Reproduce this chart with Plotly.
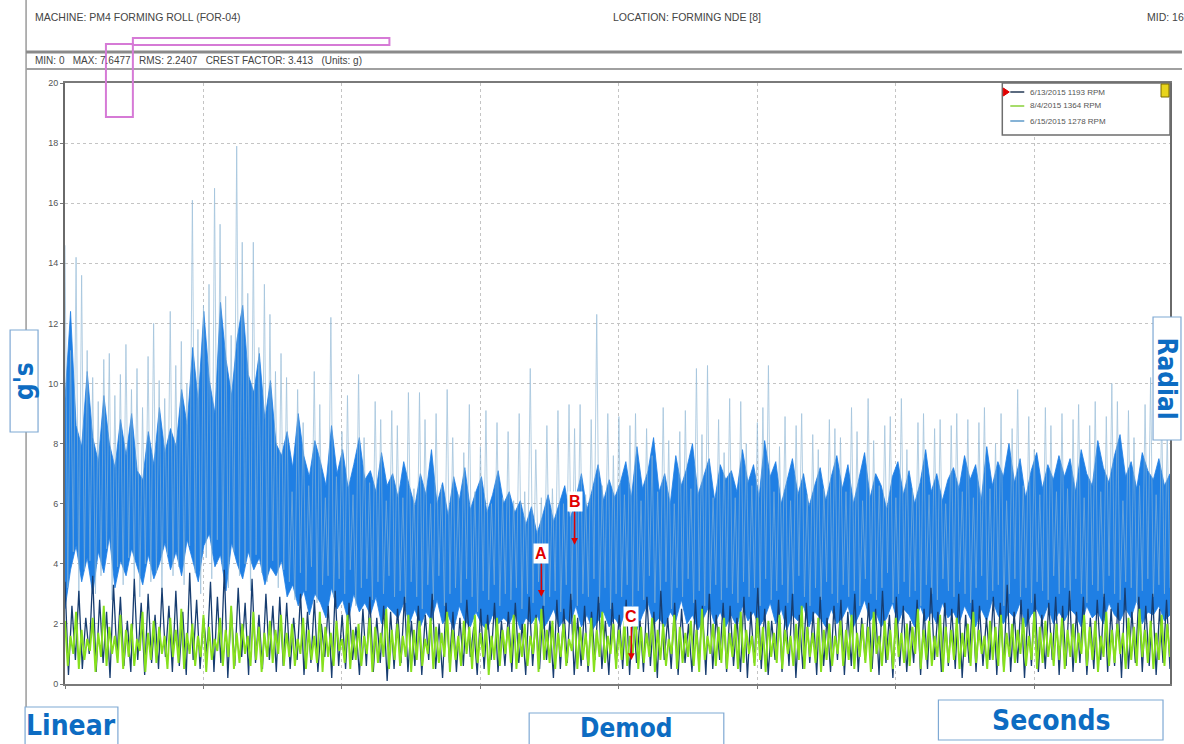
import numpy as np
import plotly.graph_objects as go

# ---------------------------------------------------------------------------
# Demodulated time waveform, FORMING NDE [8], three measurement dates
# ---------------------------------------------------------------------------
T_END = 7.98  # seconds recorded

# 6/15/2015 1278 RPM - dense core of the waveform (lower / upper excursion), g
BODY_LOW = [
    2.5, 3.8, 4.6, 3.4, 4.2, 3.0, 4.4, 3.7, 4.9, 3.2, 4.1, 3.6, 4.5, 3.9, 3.3, 4.3, 3.5, 4.0, 4.7, 3.8,
    4.4, 3.6, 4.8, 4.1, 3.4, 4.6, 5.0, 3.9, 4.3, 3.1, 4.7, 4.0, 3.5, 4.4, 3.8, 4.2, 3.3, 3.9, 3.6, 4.1,
    2.9, 3.3, 2.6, 3.1, 2.3, 3.0, 2.7, 2.2, 3.2, 2.5, 2.8, 2.1, 3.0, 2.4, 2.7, 2.3, 2.9, 2.0, 2.6, 2.4,
    2.2, 2.7, 2.0, 2.5, 1.9, 2.4, 2.1, 2.8, 2.0, 2.3, 1.8, 2.6, 2.1, 1.9, 2.4, 2.0, 1.8, 2.3, 2.0, 2.2,
    2.0, 2.4, 1.8, 2.2, 2.0, 2.3, 1.8, 2.1, 2.5, 1.9, 2.2, 2.0, 2.6, 1.9, 2.3, 1.8, 2.1, 2.4, 1.9, 2.2,
    1.9, 2.5, 2.1, 1.8, 2.3, 2.7, 2.0, 2.2, 1.9, 2.4, 2.1, 2.8, 2.0, 2.3, 1.8, 2.2, 2.6, 2.0, 2.4, 1.9,
    2.3, 1.9, 2.6, 2.1, 2.4, 1.9, 2.2, 2.7, 2.0, 2.5, 1.8, 2.3, 2.1, 2.6, 1.9, 2.4, 2.2, 1.9, 2.5, 2.0,
    2.2, 2.6, 1.9, 2.3, 2.8, 2.1, 2.4, 1.9, 2.2, 2.7, 2.0, 2.5, 2.3, 1.9, 2.6, 2.1, 2.4, 2.0, 2.7, 2.2,
    2.4, 2.0, 2.6, 2.2, 1.9, 2.5, 2.1, 2.8, 2.3, 2.0, 2.4, 2.2, 2.7, 1.9, 2.3, 2.5, 2.1, 2.6, 2.0, 2.4,
    2.1, 2.5, 2.3, 1.9, 2.6, 2.2, 2.4, 2.0, 2.7, 2.3, 2.1, 2.5, 2.2, 2.8, 2.0, 2.4, 2.3, 2.6, 2.1, 2.3,
]
BODY_HIGH = [
    9.5, 12.4, 8.6, 7.9, 10.4, 8.2, 7.4, 9.6, 8.0, 7.2, 8.8, 7.6, 9.0, 7.1, 6.8, 8.4, 7.3, 9.2, 7.7, 8.5,
    7.9, 9.8, 8.6, 11.2, 9.4, 12.4, 10.1, 9.0, 12.7, 10.8, 9.6, 11.5, 12.6, 10.3, 9.7, 11.0, 8.8, 10.1, 8.0, 7.6,
    8.4, 7.2, 9.0, 7.6, 6.9, 8.1, 7.4, 6.6, 8.6, 7.0, 7.8, 6.5, 7.3, 8.2, 6.8, 7.1, 6.4, 7.7, 6.6, 7.0,
    6.2, 7.4, 6.6, 5.9, 7.0, 6.3, 7.8, 6.0, 6.7, 5.6, 6.9, 6.1, 7.2, 5.8, 6.4, 6.9, 5.7, 6.3, 7.1, 6.0,
    6.4, 5.7, 6.1, 5.3, 5.9, 5.0, 5.6, 6.3, 5.4, 6.0, 6.6, 5.5, 6.2, 7.0, 5.8, 6.5, 7.3, 6.1, 6.8, 6.2,
    6.7, 7.4, 6.2, 7.9, 6.5, 7.1, 8.2, 6.4, 7.0, 6.0, 7.6, 6.6, 7.2, 8.0, 6.3, 6.9, 7.5, 6.1, 7.3, 6.8,
    7.1, 6.4, 7.8, 6.7, 7.3, 6.2, 8.1, 6.9, 7.4, 6.0, 6.8, 7.5, 6.3, 7.0, 5.9, 6.6, 7.2, 6.1, 6.9, 7.6,
    6.5, 7.3, 6.0, 6.8, 7.7, 6.2, 7.0, 6.6, 5.8, 6.9, 7.4, 6.3, 7.1, 6.0, 6.7, 7.8, 6.4, 7.0, 6.1, 6.8,
    7.2, 6.5, 7.6, 6.8, 7.3, 6.1, 7.9, 6.6, 7.4, 6.9, 8.0, 6.7, 7.5, 6.2, 7.1, 7.7, 6.5, 7.3, 6.8, 7.6,
    6.9, 7.5, 6.4, 7.8, 7.0, 6.6, 8.1, 7.2, 6.7, 7.6, 8.3, 6.9, 7.4, 6.5, 7.7, 7.1, 6.8, 7.5, 6.6, 7.0,
]

# 6/15/2015 1278 RPM - impact peaks and the valleys between them, g
PEAK_TOP = [
    14.6, 11.1, 14.2, 13.6, 11.1, 10.2, 9.4, 10.8, 11.0, 9.6, 10.3, 11.3, 9.8, 10.5, 9.2, 10.9, 12.0, 10.1, 9.5, 12.4,
    10.6, 11.4, 10.0, 16.1, 11.8, 12.6, 13.3, 16.5, 15.3, 12.9, 11.6, 17.9, 14.7, 13.0, 14.7, 11.2, 13.3, 12.3, 10.4, 11.0,
    10.2, 6.4, 9.8, 8.7, 6.6, 10.4, 9.3, 6.2, 12.2, 6.9, 8.4, 9.6, 6.3, 10.3, 8.2, 6.7, 9.4, 8.8, 6.1, 9.1,
    8.6, 6.2, 9.7, 6.5, 9.7, 8.8, 6.0, 9.0, 6.6, 9.8, 8.2, 6.3, 7.7, 9.3, 6.4, 7.9, 9.1, 6.0, 8.7, 6.2,
    8.4, 6.1, 9.0, 6.4, 10.5, 7.8, 6.2, 8.6, 6.5, 9.1, 6.0, 9.3, 8.5, 9.3, 6.3, 8.8, 12.3, 6.6, 9.0, 7.6,
    8.9, 6.3, 8.6, 9.0, 6.1, 8.5, 7.6, 6.4, 9.2, 8.1, 6.0, 8.4, 9.1, 6.5, 10.5, 8.3, 10.6, 6.2, 8.8, 7.7,
    9.5, 6.2, 9.4, 8.0, 6.6, 8.7, 9.2, 10.6, 6.4, 7.9, 8.9, 6.1, 8.6, 9.0, 6.3, 8.3, 7.8, 6.5, 8.8, 8.5,
    8.2, 6.4, 9.2, 8.4, 6.1, 9.5, 8.1, 6.6, 8.6, 8.9, 6.2, 9.5, 7.8, 6.5, 8.7, 9.0, 6.3, 8.5, 8.8, 6.0,
    8.6, 9.0, 6.4, 8.8, 6.2, 8.7, 9.2, 6.5, 8.0, 9.0, 6.1, 8.5, 9.8, 6.6, 8.9, 7.8, 6.3, 9.2, 8.6, 6.4,
    9.0, 6.5, 8.8, 9.3, 6.2, 8.6, 9.4, 6.4, 8.9, 10.0, 9.4, 6.1, 9.1, 8.2, 6.6, 9.3, 10.2, 6.3, 9.0, 8.4,
]
PEAK_BASE = [
    3.2, 4.4, 2.9, 3.8, 4.1, 3.0, 3.6, 4.5, 2.8, 3.9, 3.3, 4.2, 3.5, 2.9, 4.0, 3.4, 3.7, 3.1, 4.3, 3.6,
    3.9, 3.3, 4.6, 3.7, 3.0, 4.2, 3.5, 4.8, 3.8, 3.2, 4.4, 3.6, 4.0, 3.1, 4.3, 3.7, 3.4, 4.1, 3.2, 3.8,
    3.4, 2.8, 3.7, 3.1, 3.9, 2.7, 3.3, 3.6, 2.9, 3.5, 3.0, 3.8, 2.6, 3.2, 3.5, 2.8, 3.4, 3.0, 3.6, 2.9,
    3.1, 2.7, 3.4, 2.9, 2.5, 3.3, 2.8, 3.6, 2.6, 3.0, 3.2, 2.7, 3.5, 2.9, 2.4, 3.1, 2.8, 3.3, 2.6, 3.0,
    2.8, 3.2, 2.5, 3.0, 2.7, 3.4, 2.6, 2.9, 3.1, 2.4, 3.3, 2.8, 2.6, 3.0, 2.9, 3.5, 2.7, 3.2, 2.5, 3.0,
    2.9, 3.3, 2.6, 3.1, 2.8, 3.6, 2.7, 3.0, 3.4, 2.5, 3.2, 2.9, 3.5, 2.7, 3.1, 2.6, 3.0, 3.3, 2.8, 3.2,
    3.0, 2.7, 3.4, 2.9, 3.2, 2.6, 3.5, 2.8, 3.1, 3.3, 2.7, 3.0, 3.6, 2.9, 2.6, 3.2, 2.8, 3.4, 3.0, 2.7,
    3.3, 2.9, 3.1, 2.6, 3.5, 3.0, 2.8, 3.2, 3.7, 2.7, 3.0, 3.4, 2.9, 3.1, 2.6, 3.3, 3.0, 2.8, 3.5, 3.1,
    2.9, 3.4, 3.0, 2.7, 3.2, 3.6, 2.8, 3.1, 3.3, 2.6, 3.0, 3.5, 2.9, 3.2, 2.7, 3.4, 3.1, 2.8, 3.6, 3.0,
    3.2, 2.8, 3.5, 3.0, 2.7, 3.3, 3.1, 2.9, 3.6, 3.0, 2.8, 3.4, 3.2, 2.7, 3.1, 3.5, 2.9, 3.3, 3.0, 3.2,
]

# 6/13/2015 1193 RPM - peaks and valleys, g
JUNE13_TOP = [
    3.4, 2.6, 3.1, 2.2, 3.6, 2.8, 2.4, 3.3, 2.9, 2.1, 3.5, 2.7, 3.0, 2.3, 3.2, 2.6,
    3.1, 2.4, 3.7, 2.8, 2.2, 3.4, 2.9, 3.8, 2.5, 3.2, 2.7, 3.5, 2.3, 3.0, 2.6, 2.9,
    2.7, 2.2, 3.0, 2.4, 2.8, 2.0, 2.6, 3.1, 2.3, 2.7, 1.9, 2.5, 2.9, 2.2, 2.6, 2.4,
    2.5, 2.9, 2.1, 2.6, 2.3, 3.0, 2.0, 2.7, 2.4, 2.2, 2.8, 1.9, 2.5, 2.3, 2.7, 2.1,
    2.4, 2.7, 2.0, 2.9, 2.3, 2.6, 2.1, 2.8, 2.5, 3.0, 2.2, 2.6, 2.4, 2.9, 2.1, 2.7,
    2.3, 2.8, 2.5, 2.1, 2.9, 2.4, 3.1, 2.2, 2.7, 2.5, 2.0, 2.8, 2.6, 3.0, 2.3, 2.7,
    2.6, 2.2, 2.9, 2.4, 3.2, 2.5, 2.1, 2.8, 2.6, 3.0, 2.3, 2.7, 2.4, 2.9, 2.2, 2.6,
    2.8, 2.4, 3.0, 2.2, 2.7, 2.5, 3.1, 2.3, 2.9, 2.6, 2.1, 2.8, 2.5, 3.2, 2.4, 2.7,
    2.5, 3.0, 2.3, 2.8, 2.6, 2.2, 2.9, 2.7, 3.3, 2.4, 2.8, 2.5, 3.0, 2.3, 2.7, 2.9,
    2.6, 3.1, 2.4, 2.9, 2.2, 2.8, 3.0, 2.5, 2.7, 3.2, 2.4, 2.9, 2.6, 3.0, 2.5, 2.8,
]
JUNE13_LOW = [
    0.3, 0.8, 0.5, 1.0, 0.4, 0.7, 0.2, 0.9, 0.6, 0.4, 0.8, 0.3, 0.7, 0.5, 0.9, 0.4,
    0.6, 0.3, 0.8, 0.5, 1.0, 0.4, 0.7, 0.2, 0.6, 0.9, 0.3, 0.7, 0.5, 0.8, 0.4, 0.6,
    0.5, 0.8, 0.3, 0.7, 0.4, 0.9, 0.2, 0.6, 0.5, 0.8, 0.3, 0.6, 0.4, 0.7, 0.1, 0.5,
    0.7, 0.4, 0.6, 0.3, 0.8, 0.5, 0.2, 0.7, 0.4, 0.6, 0.9, 0.3, 0.5, 0.8, 0.4, 0.6,
    0.4, 0.7, 0.3, 0.6, 0.5, 0.8, 0.2, 0.5, 0.7, 0.3, 0.6, 0.4, 0.8, 0.5, 0.3, 0.7,
    0.5, 0.3, 0.7, 0.4, 0.6, 0.2, 0.8, 0.5, 0.3, 0.7, 0.4, 0.6, 0.3, 0.5, 0.8, 0.4,
    0.6, 0.4, 0.2, 0.7, 0.5, 0.3, 0.8, 0.4, 0.6, 0.2, 0.5, 0.7, 0.3, 0.6, 0.4, 0.8,
    0.3, 0.6, 0.4, 0.8, 0.5, 0.3, 0.7, 0.2, 0.6, 0.4, 0.7, 0.3, 0.5, 0.8, 0.4, 0.6,
    0.5, 0.2, 0.7, 0.4, 0.6, 0.8, 0.3, 0.5, 0.4, 0.7, 0.2, 0.6, 0.4, 0.5, 0.8, 0.3,
    0.6, 0.4, 0.7, 0.3, 0.5, 0.8, 0.4, 0.6, 0.2, 0.5, 0.7, 0.4, 0.6, 0.3, 0.7, 0.5,
]

# 8/4/2015 1364 RPM - peaks and valleys, g
AUG04_TOP = [
    2.1, 1.6, 2.4, 1.8, 1.5, 2.2, 1.7, 2.6, 1.9, 1.6, 2.3, 1.8, 2.0, 1.5, 2.4, 1.7, 2.1, 1.9, 1.6, 2.2,
    1.8, 2.5, 1.7, 2.0, 1.6, 2.3, 1.9, 1.5, 2.2, 1.8, 2.6, 1.7, 2.0, 1.6, 2.4, 1.9, 1.7, 2.1, 1.8, 2.3,
    1.7, 2.0, 1.5, 2.2, 1.8, 1.6, 2.4, 1.9, 1.7, 2.1, 1.5, 2.3, 1.8, 2.0, 1.6, 2.2, 1.9, 1.7, 2.5, 1.8,
    2.0, 1.6, 2.3, 1.8, 2.1, 1.5, 2.2, 1.9, 1.7, 2.4, 1.8, 1.6, 2.1, 1.9, 2.3, 1.7, 2.0, 1.6, 2.2, 1.8,
    1.9, 2.3, 1.7, 2.0, 1.6, 2.2, 2.5, 1.8, 2.1, 1.7, 2.0, 1.5, 2.3, 1.9, 1.7, 2.2, 1.8, 2.4, 1.6, 2.0,
    1.8, 2.1, 1.6, 2.4, 1.9, 1.7, 2.2, 1.8, 2.0, 1.5, 2.3, 1.9, 1.7, 2.1, 1.8, 2.5, 1.6, 2.0, 1.9, 2.2,
    1.7, 2.0, 2.4, 1.8, 1.6, 2.2, 1.9, 2.1, 1.7, 2.3, 1.8, 1.6, 2.0, 2.6, 1.9, 1.7, 2.2, 1.8, 2.0, 1.6,
    2.1, 1.8, 2.3, 1.7, 2.0, 1.9, 2.4, 1.6, 2.1, 1.8, 2.2, 1.7, 2.0, 1.9, 2.5, 1.8, 2.1, 1.6, 2.3, 1.9,
    1.8, 2.2, 1.7, 2.0, 2.4, 1.8, 1.6, 2.1, 1.9, 2.3, 1.7, 2.0, 1.8, 2.2, 1.6, 2.4, 1.9, 2.1, 1.7, 2.0,
    2.2, 1.8, 2.0, 1.7, 2.3, 1.9, 2.1, 1.6, 2.4, 1.8, 2.0, 1.7, 2.2, 1.9, 2.5, 1.8, 2.1, 1.7, 2.3, 2.0,
]
AUG04_LOW = [
    0.6, 1.0, 0.5, 0.8, 1.1, 0.4, 0.9, 0.6, 1.0, 0.7, 0.5, 0.9, 0.6, 1.1, 0.4, 0.8, 0.7, 1.0, 0.5, 0.9,
    0.7, 0.5, 1.0, 0.6, 0.9, 0.4, 0.8, 1.1, 0.6, 0.9, 0.5, 0.7, 1.0, 0.6, 0.8, 0.4, 0.9, 0.7, 1.0, 0.6,
    0.9, 0.6, 1.0, 0.5, 0.8, 0.7, 0.4, 0.9, 0.6, 1.1, 0.7, 0.5, 0.8, 0.6, 1.0, 0.4, 0.7, 0.9, 0.5, 0.8,
    0.6, 0.9, 0.4, 0.8, 0.6, 1.0, 0.5, 0.7, 0.9, 0.4, 0.8, 0.6, 1.0, 0.5, 0.7, 0.9, 0.3, 0.8, 0.6, 1.0,
    0.7, 0.5, 0.9, 0.6, 1.0, 0.4, 0.8, 0.7, 0.5, 0.9, 0.6, 1.1, 0.5, 0.8, 0.6, 0.4, 0.9, 0.7, 1.0, 0.5,
    0.8, 0.6, 1.0, 0.5, 0.7, 0.9, 0.4, 0.8, 0.6, 1.0, 0.5, 0.7, 0.9, 0.6, 0.4, 0.8, 1.0, 0.6, 0.7, 0.5,
    0.9, 0.5, 0.7, 1.0, 0.6, 0.8, 0.4, 0.9, 0.7, 0.5, 1.0, 0.6, 0.8, 0.5, 0.9, 0.7, 0.4, 0.8, 0.6, 1.0,
    0.6, 0.8, 0.5, 0.9, 0.7, 0.4, 1.0, 0.6, 0.8, 0.5, 0.9, 0.7, 0.6, 1.0, 0.5, 0.8, 0.6, 0.9, 0.4, 0.7,
    0.8, 0.5, 0.9, 0.6, 0.7, 1.0, 0.5, 0.8, 0.6, 0.4, 0.9, 0.7, 1.0, 0.6, 0.8, 0.5, 0.7, 0.9, 0.6, 0.8,
    0.5, 0.9, 0.7, 1.0, 0.6, 0.8, 0.4, 0.9, 0.6, 0.7, 1.0, 0.5, 0.8, 0.6, 0.9, 0.7, 0.5, 0.8, 0.6, 0.9,
]

SERIES_NAMES = ["6/13/2015 1193 RPM", "8/4/2015 1364 RPM", "6/15/2015 1278 RPM"]
X_TICKS = [0, 1, 2, 3, 4, 5, 6, 7]
X_TICK_TEXT = ["0", "1", "2", "3", "4", "5", "6", ""]  # "7" sits under the Seconds caption
Y_TICKS = [0, 2, 4, 6, 8, 10, 12, 14, 16, 18, 20]

# Marked points: (label, time s, amplitude g)
MARKERS = [("A", 3.44, 2.9), ("B", 3.68, 4.63), ("C", 4.09, 0.8)]

STATS = "MIN: 0   MAX: 7.6477   RMS: 2.2407   CREST FACTOR: 3.413   (Units: g)"

# colours
C_LIGHT = "#8cb5d4"
C_BODY = "#1f7fe4"
C_NAVY = "#173d70"
C_GREEN = "#86e01e"
C_LABEL = "#0d6cc2"

# ---------------------------------------------------------------------------
W, H = 1184, 744
ML, MR, MT, MB = 65, 12, 83, 60
PW, PH = W - ML - MR, H - MT - MB


def px(x):
    return (x - ML) / PW


def py(y):
    return (H - MB - y) / PH


def zigzag(tops, lows):
    y = np.empty(2 * len(tops))
    y[0::2] = tops
    y[1::2] = lows
    return np.linspace(0, T_END, len(y)), y


fig = go.Figure()

# dense core of the 6/15 waveform, impact peaks streaked over it
tb = np.linspace(0, T_END, len(BODY_LOW))
fig.add_trace(go.Scatter(x=tb, y=BODY_LOW, mode="lines", line=dict(color=C_BODY, width=0.8),
                         showlegend=False, hoverinfo="skip"))
fig.add_trace(go.Scatter(x=tb, y=BODY_HIGH, mode="lines", line=dict(color=C_BODY, width=0.8),
                         fill="tonexty", fillcolor=C_BODY, showlegend=False, hoverinfo="skip"))

xs, ys = zigzag(PEAK_TOP, PEAK_BASE)
fig.add_trace(go.Scatter(x=xs, y=ys, mode="lines", line=dict(color=C_LIGHT, width=0.8),
                         opacity=0.8, name=SERIES_NAMES[2], showlegend=False, hoverinfo="skip"))

xs, ys = zigzag(JUNE13_TOP, JUNE13_LOW)
fig.add_trace(go.Scatter(x=xs, y=ys, mode="lines", line=dict(color=C_NAVY, width=1.3),
                         name=SERIES_NAMES[0], showlegend=False, hoverinfo="skip"))

xs, ys = zigzag(AUG04_TOP, AUG04_LOW)
fig.add_trace(go.Scatter(x=xs, y=ys, mode="lines", line=dict(color=C_GREEN, width=1.9),
                         name=SERIES_NAMES[1], showlegend=False, hoverinfo="skip"))

# seconds labels under the time axis, written as a text layer that is not clipped
fig.add_trace(go.Scatter(x=X_TICKS, y=[-0.6] * len(X_TICKS), mode="text", text=X_TICK_TEXT,
                         textposition="middle center", cliponaxis=False, showlegend=False,
                         hoverinfo="skip",
                         textfont=dict(size=9, color="#555", family="Liberation Sans, Arial")))

shapes = []
annotations = []


def hline(y, x0, x1, color, width):
    shapes.append(dict(type="line", xref="paper", yref="paper", x0=px(x0), x1=px(x1),
                       y0=py(y), y1=py(y), line=dict(color=color, width=width)))


def vline(x, y0, y1, color, width):
    shapes.append(dict(type="line", xref="paper", yref="paper", x0=px(x), x1=px(x),
                       y0=py(y0), y1=py(y1), line=dict(color=color, width=width)))


def rect(x0, y0, x1, y1, color, width, fill="rgba(0,0,0,0)", layer="above"):
    shapes.append(dict(type="rect", xref="paper", yref="paper", x0=px(x0), x1=px(x1),
                       y0=py(y1), y1=py(y0), line=dict(color=color, width=width), fillcolor=fill,
                       layer=layer))


def text(x, y, s, size=8, color="#444", xanchor="left", **kw):
    annotations.append(dict(xref="paper", yref="paper", x=px(x), y=py(y), text=s,
                            showarrow=False, xanchor=xanchor, yanchor="middle",
                            font=dict(size=size, color=color, family="Liberation Sans, Arial"), **kw))


# report header frame
vline(26, 0, H, "#9a9a9a", 1.5)
hline(52, 26, W, "#8a8a8a", 3)
hline(69, 26, W, "#a0a0a0", 2)
text(33, 17, "MACHINE: PM4 FORMING ROLL (FOR-04)", size=10.5)
text(612, 17, "LOCATION: FORMING NDE [8]", size=10.5)
text(1147, 17, "MID: 16", size=10.5)
text(33, 60, STATS.replace("   ", "&nbsp;&nbsp;&nbsp;"), size=10)

# highlight marks on the header
rect(133, 38, 390, 45, "#d67ad6", 2)
rect(106, 44, 133, 117, "#d67ad6", 2)

# legend box
rect(1004, 83, 1172, 135, "#6e6e6e", 1.5, fill="white")
rect(1163, 84, 1171, 97, "#7a6a00", 1, fill="#e8d41c")
legend_rows = [(92, "#5c6b80"), (106, "#a6dc6a"), (121, "#86b3d6")]
for (yy, col), name in zip(legend_rows, SERIES_NAMES):
    hline(yy, 1012, 1026, col, 2)
    text(1030, yy, name, size=8, color="#555")
shapes.append(dict(type="path", xref="paper", yref="paper",
                   path="M {} {} L {} {} L {} {} Z".format(px(1005), py(88), px(1011), py(92),
                                                          px(1005), py(96)),
                   fillcolor="#e00000", line=dict(color="#e00000", width=1)))

# boxed captions: white framed box with bold blue lettering
CAP_FONT = "Liberation Sans Narrow, DejaVu Sans Condensed, Arial Narrow, sans-serif"


def caption(x0, y0, x1, y1, s, size, angle=0, ty=None):
    rect(x0, y0, x1, y1, "#7fa9d4", 1.2, fill="white")
    cy = (y0 + y1) / 2 if ty is None else ty
    annotations.append(dict(xref="paper", yref="paper", x=px((x0 + x1) / 2), y=py(cy),
                            xanchor="center", yanchor="middle", text="<b>" + s + "</b>",
                            showarrow=False, textangle=angle,
                            font=dict(family=CAP_FONT, size=size, color=C_LABEL)))


caption(25, 707, 118, 746, "Linear", 28, ty=725)
caption(530, 713, 725, 746, "Demod", 26, ty=728)
caption(940, 700, 1165, 740, "Seconds", 28)
caption(10, 330, 38, 432, "g's", 26, angle=-90)
caption(1155, 317, 1183, 440, "Radial", 26, angle=90)

# marked points with arrows
for lab, t, g in MARKERS:
    annotations.append(dict(x=t, y=g, xref="x", yref="y", text="<b>" + lab + "</b>",
                            showarrow=True, ax=0, ay=-43, arrowhead=2, arrowsize=0.9,
                            arrowwidth=1.5, arrowcolor="#e00000", bgcolor="white", borderpad=1,
                            font=dict(size=16, color="#e00000", family="Liberation Sans, Arial")))

fig.update_layout(
    width=W, height=H,
    margin=dict(l=ML, r=MR, t=MT, b=MB),
    paper_bgcolor="white", plot_bgcolor="white",
    shapes=shapes, annotations=annotations,
    showlegend=False,
    xaxis=dict(range=[0, T_END], tickvals=X_TICKS, showticklabels=False, showgrid=True,
               gridcolor="#c4c4c4", griddash="dot", gridwidth=1, zeroline=False, showline=True,
               mirror=True, linecolor="#7a7a7a", linewidth=2, ticks="outside", ticklen=3,
               tickcolor="#777"),
    yaxis=dict(range=[0, 20], tickvals=Y_TICKS, showgrid=True, gridcolor="#c4c4c4",
               griddash="dot", gridwidth=1, zeroline=False, showline=True, mirror=True,
               linecolor="#6a6a6a", linewidth=2, ticks="outside", ticklen=3, tickcolor="#777",
               tickfont=dict(size=9, color="#555", family="Liberation Sans, Arial")),
)

fig.write_html("out.html")
